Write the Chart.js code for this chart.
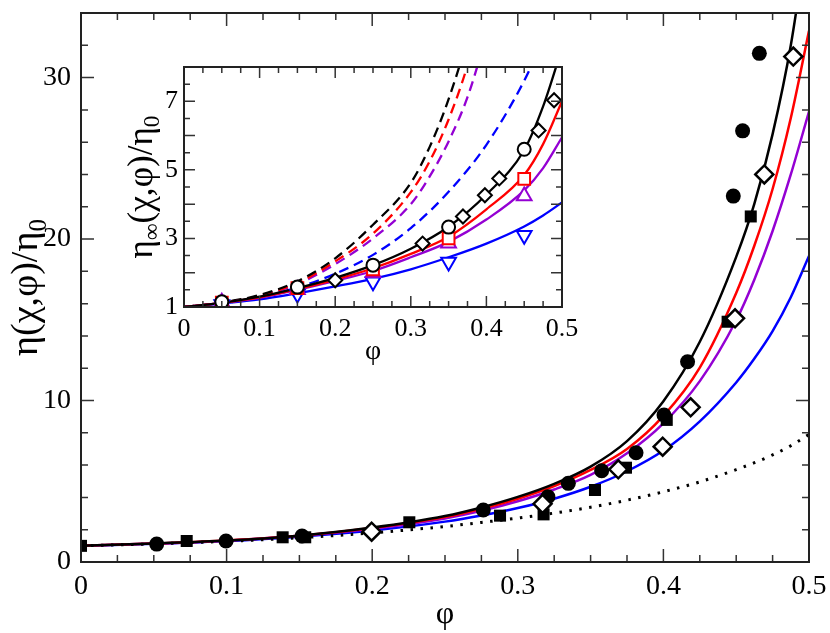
<!DOCTYPE html>
<html>
<head>
<meta charset="utf-8">
<script src="https://cdn.jsdelivr.net/npm/chart.js@4.4.1/dist/chart.umd.min.js"></script>
<style>
  html, body { margin: 0; padding: 0; background: #fff; }
  #wrap { position: relative; width: 830px; height: 633px; }
  #main { position: absolute; left: 0; top: 0; }
  #inset { position: absolute; left: 110px; top: 55px; }
</style>
</head>
<body>
<div id="wrap">
  <canvas id="main" width="830" height="633"></canvas>
  <canvas id="inset" width="470" height="320"></canvas>
</div>
<script>
// ---- main panel: eta(chi,phi)/eta0 against phi ----
const phiMain    = [0, 0.05, 0.1, 0.15, 0.2, 0.25, 0.275, 0.3, 0.325, 0.35, 0.375, 0.4, 0.425, 0.45, 0.4625, 0.475, 0.4875, 0.5];
const mainBlack  = [1.0, 1.15, 1.33, 1.63, 2.13, 2.85, 3.38, 4.03, 4.84, 5.91, 7.49, 9.96, 13.64, 18.9, 22.2, 26.5, 32.0, 39.5];
const mainRed    = [1.0, 1.15, 1.33, 1.62, 2.1, 2.78, 3.3, 3.92, 4.7, 5.7, 7.0, 9.05, 12.04, 16.66, 19.6, 23.1, 27.5, 32.9];
const mainViolet = [1.0, 1.14, 1.32, 1.62, 2.06, 2.7, 3.17, 3.76, 4.49, 5.4, 6.73, 8.59, 11.2, 14.97, 17.5, 20.5, 24.0, 27.9];
const mainBlue   = [1.0, 1.13, 1.3, 1.57, 1.95, 2.5, 2.88, 3.34, 3.92, 4.66, 5.62, 6.9, 8.71, 11.12, 12.6, 14.3, 16.4, 18.95];
const mainDotted = [1.0, 1.12, 1.28, 1.5, 1.8, 2.2, 2.45, 2.72, 3.03, 3.39, 3.83, 4.35, 4.96, 5.72, 6.15, 6.63, 7.2, 7.9];

// filled circles, filled squares, open diamonds
const circX = [0.052, 0.0996, 0.1518, 0.2763, 0.3207, 0.3347, 0.3576, 0.3812, 0.4004, 0.4166, 0.448, 0.4544, 0.4659];
const circY = [1.11, 1.3, 1.61, 3.22, 4.04, 4.87, 5.65, 6.77, 9.1, 12.4, 22.66, 26.7, 31.5];
const sqX   = [0, 0.0726, 0.1385, 0.154, 0.2255, 0.2878, 0.3177, 0.353, 0.3743, 0.4023, 0.4441, 0.46];
const sqY   = [1.0, 1.3, 1.53, 1.53, 2.46, 2.87, 2.95, 4.46, 5.84, 8.8, 14.88, 21.4];
const diaX  = [0.1996, 0.317, 0.369, 0.3995, 0.4187, 0.4492, 0.4693, 0.4892];
const diaY  = [1.88, 3.6, 5.74, 7.14, 9.58, 15.09, 24.0, 31.3];

// ---- inset: eta_inf(chi,phi)/eta0 ----
const phiIn    = [0, 0.05, 0.1, 0.15, 0.2, 0.25, 0.3, 0.35, 0.4, 0.45, 0.475, 0.5];
const inBlack  = [1, 1.12, 1.3, 1.55, 1.85, 2.22, 2.7, 3.34, 4.28, 5.58, 6.85, 8.55];
const inRed    = [1, 1.12, 1.28, 1.52, 1.8, 2.13, 2.55, 3.05, 3.85, 4.85, 5.75, 7.0];
const inViolet = [1, 1.12, 1.27, 1.5, 1.76, 2.05, 2.45, 2.9, 3.55, 4.4, 5.05, 5.95];
const inBlue   = [1, 1.1, 1.22, 1.4, 1.6, 1.82, 2.1, 2.45, 2.85, 3.35, 3.67, 4.05];

const phiDash     = [0, 0.05, 0.1, 0.15, 0.2, 0.25, 0.3, 0.325, 0.35, 0.375, 0.4];
const dashBlack   = [1, 1.13, 1.35, 1.75, 2.42, 3.4, 4.62, 5.67, 7.06, 8.85, 11.2];
const dashRed     = [1, 1.12, 1.33, 1.7, 2.33, 3.14, 4.35, 5.25, 6.47, 8.05, 10.2];
const dashViolet  = [1, 1.12, 1.32, 1.67, 2.25, 3.0, 4.0, 4.81, 5.83, 7.12, 8.9];
const phiDashBlue = [0, 0.05, 0.1, 0.15, 0.2, 0.25, 0.3, 0.35, 0.4, 0.45, 0.475];
const dashBlue    = [1, 1.1, 1.3, 1.57, 1.97, 2.52, 3.3, 4.36, 5.73, 7.6, 8.8];

const phiSym  = [0.05, 0.15, 0.25, 0.35, 0.45];
const symCirc = [1.15, 1.58, 2.22, 3.33, 5.6];
const symSq   = [1.13, 1.55, 2.1, 3.0, 4.74];
const symUp   = [1.14, 1.5, 2.0, 2.86, 4.24];
const symDown = [1.07, 1.38, 1.74, 2.31, 3.09];
const inDiaX  = [0.2, 0.3156, 0.369, 0.398, 0.417, 0.469, 0.4895];
const inDiaY  = [1.78, 2.85, 3.64, 4.26, 4.75, 6.15, 7.03];

// labelled ticks
const mainYLabels  = [0, 10, 20, 30];
const insetYLabels = [1, 3, 5, 7];

const FONT = "'Liberation Serif', 'Times New Roman', Tinos, 'Nimbus Roman', 'DejaVu Serif', serif";
const BLACK = '#000000', RED = '#ff0000', VIOLET = '#9400d3', BLUE = '#0000ff';

const pts = (xs, ys) => xs.map((x, i) => ({ x: x, y: ys[i] }));

function curve(xs, ys, color, width, extra) {
  return Object.assign({
    data: pts(xs, ys), showLine: true, borderColor: color, borderWidth: width,
    pointRadius: 0, cubicInterpolationMode: 'monotone', fill: false
  }, extra || {});
}

function symbols(xs, ys, style, r, fill, stroke, bw, rot) {
  return {
    data: pts(xs, ys), showLine: false, pointStyle: style, pointRadius: r,
    pointRotation: rot || 0, backgroundColor: fill, borderColor: stroke,
    pointBackgroundColor: fill, pointBorderColor: stroke, pointBorderWidth: bw
  };
}

const near = (v, list) => list.some(l => Math.abs(l - v) < 1e-6);

// rich text with subscripts, centred at (cx, cy); if len is given the
// font is scaled so the whole string is that long
function drawRich(ctx, parts, cx, cy, angle, size, len) {
  const measure = s => parts.reduce((t, p) => {
    ctx.font = (p[1] ? s * 0.66 : s) + 'px ' + FONT;
    return t + ctx.measureText(p[0]).width;
  }, 0);
  ctx.save();
  if (len) size = size * len / measure(size);
  const sub = size * 0.66;
  ctx.translate(cx, cy);
  ctx.rotate(angle);
  ctx.fillStyle = '#000';
  ctx.textBaseline = 'alphabetic';
  ctx.textAlign = 'left';
  let x = -measure(size) / 2;
  parts.forEach(p => {
    ctx.font = (p[1] ? sub : size) + 'px ' + FONT;
    ctx.fillText(p[0], x, size * 0.3 + (p[1] ? size * 0.22 : 0));
    x += ctx.measureText(p[0]).width;
  });
  ctx.restore();
}

// inward ticks on all four sides, the frame and the axis titles
function framePlugin(cfg) {
  return {
    id: 'frame',
    afterDraw(chart) {
      const ctx = chart.ctx, a = chart.chartArea;
      const sx = chart.scales.x, sy = chart.scales.y;
      const isMajor = (v, m) => Math.abs(v / m - Math.round(v / m)) < 1e-6;
      ctx.save();
      ctx.strokeStyle = '#333';
      ctx.lineWidth = 1.5;
      ctx.beginPath();
      const nx = Math.round((sx.max - sx.min) / cfg.xMinor);
      for (let i = 0; i <= nx; i++) {
        const v = sx.min + i * cfg.xMinor;
        const px = sx.getPixelForValue(v);
        const len = isMajor(v, cfg.xMajor) ? cfg.majorLen : cfg.minorLen;
        ctx.moveTo(px, a.bottom); ctx.lineTo(px, a.bottom - len);
        ctx.moveTo(px, a.top); ctx.lineTo(px, a.top + len);
      }
      const ny = Math.floor((sy.max - sy.min) / cfg.yMinor + 1e-6);
      for (let i = 0; i <= ny; i++) {
        const v = sy.min + i * cfg.yMinor;
        const py = sy.getPixelForValue(v);
        const len = isMajor(v, cfg.yMajor) ? cfg.majorLen : cfg.minorLen;
        ctx.moveTo(a.left, py); ctx.lineTo(a.left + len, py);
        ctx.moveTo(a.right, py); ctx.lineTo(a.right - len, py);
      }
      ctx.stroke();
      ctx.lineWidth = 2;
      ctx.strokeStyle = '#222';
      ctx.strokeRect(a.left, a.top, a.right - a.left, a.bottom - a.top);
      ctx.restore();
      drawRich(ctx, cfg.xTitle, (a.left + a.right) / 2, a.bottom + cfg.xTitleGap, 0, cfg.titleSize);
      drawRich(ctx, cfg.yTitle, cfg.yTitleX, (a.top + a.bottom) / 2, -Math.PI / 2, cfg.titleSize, cfg.yTitleLen);
    }
  };
}

function axis(min, max, step, size, pad, fit, labels) {
  return {
    type: 'linear', min: min, max: max,
    grid: { display: false, drawTicks: false }, border: { display: false },
    ticks: {
      stepSize: step, includeBounds: false, autoSkip: false, maxRotation: 0,
      padding: pad, color: '#000', font: { family: FONT, size: size },
      callback: v => (!labels || near(v, labels)) ? String(Math.round(v * 1000) / 1000) : ''
    },
    afterFit: fit
  };
}

const noUi = { legend: { display: false }, tooltip: { enabled: false } };

function build() {
  new Chart(document.getElementById('main'), {
    type: 'line',
    data: {
      datasets: [
        symbols(diaX, diaY, 'rectRot', 9, '#ffffff', BLACK, 2.5),
        symbols(circX, circY, 'circle', 7.5, BLACK, BLACK, 0),
        symbols(sqX, sqY, 'rect', 8.5, BLACK, BLACK, 0),
        curve(phiMain, mainDotted, BLACK, 3, { borderDash: [2.5, 7.5], borderCapStyle: 'butt' }),
        curve(phiMain, mainBlack, BLACK, 2.5),
        curve(phiMain, mainRed, RED, 2.5),
        curve(phiMain, mainViolet, VIOLET, 2.5),
        curve(phiMain, mainBlue, BLUE, 2.5)
      ]
    },
    options: {
      responsive: false, animation: false, events: [],
      layout: { padding: { top: 13, right: 21, bottom: 0, left: 0 } },
      plugins: noUi,
      scales: {
        x: axis(0, 0.5, 0.1, 28, 8, s => { s.height = 71; s.paddingLeft = 0; s.paddingRight = 0; }),
        y: axis(0, 34, 10, 28, 10, s => { s.width = 81; s.paddingTop = 0; s.paddingBottom = 0; }, mainYLabels)
      }
    },
    plugins: [framePlugin({
      xMinor: 0.025, xMajor: 0.1, yMinor: 2, yMajor: 10, majorLen: 13, minorLen: 7,
      xTitle: [['φ', 0]], xTitleGap: 51, yTitle: [['η(χ,φ)/η', 0], ['0', 1]],
      yTitleX: 26, yTitleLen: 137, titleSize: 32
    })]
  });

  new Chart(document.getElementById('inset'), {
    type: 'line',
    data: {
      datasets: [
        symbols(phiSym, symCirc, 'circle', 6.5, '#ffffff', BLACK, 2),
        symbols(phiSym, symSq, 'rect', 8.3, '#ffffff', RED, 2),
        symbols(phiSym, symUp, 'triangle', 8.5, '#ffffff', VIOLET, 2),
        symbols(phiSym, symDown, 'triangle', 8.5, '#ffffff', BLUE, 2, 180),
        symbols(inDiaX, inDiaY, 'rectRot', 7, '#ffffff', BLACK, 2),
        curve(phiIn, inBlack, BLACK, 2.3),
        curve(phiIn, inRed, RED, 2.3),
        curve(phiIn, inViolet, VIOLET, 2.3),
        curve(phiIn, inBlue, BLUE, 2.3),
        curve(phiDash, dashBlack, BLACK, 2.3, { borderDash: [10, 6] }),
        curve(phiDash, dashRed, RED, 2.3, { borderDash: [10, 6] }),
        curve(phiDash, dashViolet, VIOLET, 2.3, { borderDash: [10, 6] }),
        curve(phiDashBlue, dashBlue, BLUE, 2.3, { borderDash: [10, 6] })
      ]
    },
    options: {
      responsive: false, animation: false, events: [],
      layout: { padding: { top: 12, right: 18, bottom: 0, left: 0 } },
      plugins: noUi,
      scales: {
        x: axis(0, 0.5, 0.1, 26, 7, s => { s.height = 68; s.paddingLeft = 0; s.paddingRight = 0; }),
        y: axis(1, 8, 1, 26, 6, s => { s.width = 74; s.paddingTop = 0; s.paddingBottom = 0; }, insetYLabels)
      }
    },
    plugins: [framePlugin({
      xMinor: 0.025, xMajor: 0.1, yMinor: 0.5, yMajor: 1, majorLen: 11, minorLen: 6,
      xTitle: [['φ', 0]], xTitleGap: 44, yTitle: [['η', 0], ['∞', 1], ['(χ,φ)/η', 0], ['0', 1]],
      yTitleX: 31, yTitleLen: 143, titleSize: 28
    })]
  });
}

// make sure the serif face is ready before anything is drawn
const fontReady = document.fonts && document.fonts.load
  ? Promise.all([
      document.fonts.load("28px 'Liberation Serif'"),
      document.fonts.load("28px 'DejaVu Serif'")
    ]).catch(() => null)
  : Promise.resolve();
fontReady.then(build);
</script>
</body>
</html>
